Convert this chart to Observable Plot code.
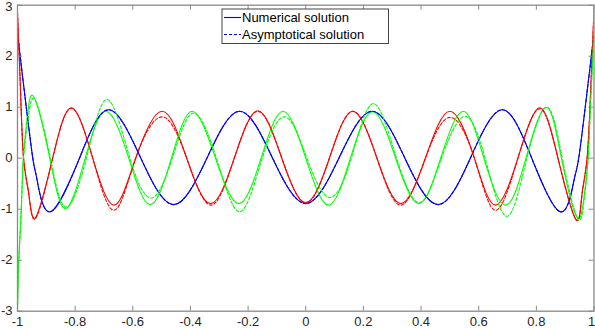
<!DOCTYPE html>
<html><head><meta charset="utf-8">
<script src="https://cdn.jsdelivr.net/npm/d3@7"></script>
<script src="https://cdn.jsdelivr.net/npm/@observablehq/plot@0.6"></script>
<style>html,body{margin:0;padding:0;background:#fff}</style>
</head><body><div id="chart"></div>
<script>
const xTicks = [-1,-0.8,-0.6,-0.4,-0.2,0,0.2,0.4,0.6,0.8,1];
const xTickLabels = ["-1","-0.8","-0.6","-0.4","-0.2","0","0.2","0.4","0.6","0.8","1"];
const yTicks = [-3,-2,-1,0,1,2,3];
const yTickLabels = ["-3","-2","-1","0","1","2","3"];
const legendLabels = ["Numerical solution","Asymptotical solution"];

// Blue curve (numerical; asymptotical coincides)
const blueX = [-1,-0.987,-0.97,-0.947,-0.932,-0.886,-0.785,-0.683,-0.572,-0.458,-0.343,-0.229,-0.115,0,0.115,0.23,0.344,0.459,0.571,0.681,0.784,0.883,0.93,0.947,0.97,0.987,1];
const blueY = [2.45,1.82,1.02,0,-0.43,-1.05,0,0.95,0,-0.91,0,0.92,0,-0.89,0,0.92,0,-0.91,0,0.95,0,-1.05,-0.45,0,1.02,1.82,2.45];

// Red curve
const redX = [-1,-0.99,-0.979,-0.961,-0.937,-0.878,-0.813,-0.739,-0.665,-0.59,-0.498,-0.413,-0.33,-0.248,-0.166,-0.083,0,0.082,0.163,0.247,0.33,0.415,0.5,0.585,0.658,0.736,0.811,0.875,0.937,0.958,0.976,0.989,1];
const redY = [2.85,1.4,0,-0.69,-1.16,0,0.99,0,-0.92,0,0.92,0,-0.89,0,0.93,0,-0.87,0,0.92,0,-0.89,0,0.92,0,-0.92,0,0.99,0,-1.2,-0.72,0,1.4,2.9];
const redDashY = [2.85,1.4,0,-0.7,-1.18,0,0.98,0,-1.02,0,0.81,0,-0.92,0,0.92,0,-0.88,0,0.92,0,-0.92,0,0.8,0,-1.02,0,0.97,0,-1.2,-0.73,0,1.4,2.9];

// Green curve
const greenX = [-1,-0.9955,-0.987,-0.98,-0.966,-0.943,-0.888,-0.834,-0.765,-0.693,-0.614,-0.54,-0.466,-0.394,-0.313,-0.232,-0.155,-0.079,0,0.079,0.155,0.232,0.312,0.392,0.468,0.546,0.618,0.693,0.764,0.834,0.887,0.94,0.965,0.979,0.987,0.9955,1];
const greenY = [-2.95,-2.0,-1.02,0,0.81,1.2,0,-0.99,0,0.92,0,-0.91,0,0.92,0,-0.89,0,0.92,0,-0.92,0,0.91,0,-0.89,0,0.92,0,-0.92,0,1.0,0,-1.15,-0.78,0,1.05,2.0,2.95];
const greenDashX = [-1,-0.9955,-0.987,-0.979,-0.963,-0.938,-0.886,-0.832,-0.761,-0.689,-0.61,-0.535,-0.463,-0.391,-0.31,-0.229,-0.151,-0.072,0.004,0.082,0.158,0.234,0.315,0.396,0.471,0.551,0.622,0.697,0.767,0.837,0.89,0.943,0.966,0.98,0.988,0.996,1];
const greenDashY = [-2.95,-2.0,-1.02,0,0.78,1.14,0,-0.96,0,1.15,0,-0.78,0,0.88,0,-1.05,0,0.81,0,-0.77,0,1.07,0,-0.87,0,0.82,0,-1.14,0,1.0,0,-1.18,-0.8,0,1.05,2.0,2.95];

const zip = (xs, ys) => xs.map((x, i) => ({x, y: ys[i]}));

const W = 595, H = 328;
const mL = 17, mR = 1.5, mT = 4.7, mB = 17.3;
const innerW = W - mL - mR, innerH = H - mT - mB;
const frameColor = "#8a8a8a";
const textColor = "#262626";
const font = "'Liberation Sans', Arial, Helvetica, sans-serif";
const xLab = new Map(xTicks.map((d, i) => [d, xTickLabels[i]]));
const yLab = new Map(yTicks.map((d, i) => [d, yTickLabels[i]]));
const xLast = xTicks[xTicks.length - 1];
const yLast = yTicks[yTicks.length - 1];

const lineOpts = (color, dash) => ({x: "x", y: "y", stroke: color, strokeWidth: 1.1, curve: "natural", clip: true, strokeDasharray: dash});
const axisText = {tickSize: 0, fontSize: 13, color: textColor, label: null};

const chart = Plot.plot({
  width: W, height: H,
  marginLeft: mL, marginRight: mR, marginTop: mT, marginBottom: mB,
  x: {domain: [-1, 1]},
  y: {domain: [-3, 3]},
  style: {fontFamily: font, fontSize: "13px", background: "#fff", overflow: "visible"},
  marks: [
    Plot.line(zip(blueX, blueY), lineOpts("#0000ff")),
    Plot.line(zip(redX, redY), lineOpts("#ff0000")),
    Plot.line(zip(greenX, greenY), lineOpts("#00ff00")),
    Plot.line(zip(blueX, blueY), lineOpts("#0000ff", "3,2")),
    Plot.line(zip(redX, redDashY), lineOpts("#ff0000", "3,2")),
    Plot.line(zip(greenDashX, greenDashY), lineOpts("#00ff00", "3,2")),
    Plot.tickX(xTicks, {x: d => d, stroke: frameColor, strokeWidth: 1, insetTop: innerH - 5}),
    Plot.tickX(xTicks, {x: d => d, stroke: frameColor, strokeWidth: 1, insetBottom: innerH - 5}),
    Plot.tickY(yTicks, {y: d => d, stroke: frameColor, strokeWidth: 1, insetRight: innerW - 5}),
    Plot.tickY(yTicks, {y: d => d, stroke: frameColor, strokeWidth: 1, insetLeft: innerW - 5}),
    Plot.frame({stroke: frameColor, strokeWidth: 1.3}),
    Plot.axisX({...axisText, ticks: xTicks.slice(0, -1), tickFormat: d => xLab.get(d), tickPadding: 6}),
    Plot.axisX({...axisText, ticks: [xLast], tickFormat: d => xLab.get(d), tickPadding: 6, dx: -2.5}),
    Plot.axisY({...axisText, ticks: yTicks.slice(0, -1), tickFormat: d => yLab.get(d), tickPadding: 5}),
    Plot.axisY({...axisText, ticks: [yLast], tickFormat: d => yLab.get(d), tickPadding: 5, dy: 1.5})
  ]
});
document.getElementById("chart").appendChild(chart);

// Legend inside the axes
const svg = d3.select(chart);
const lg = svg.append("g").attr("font-family", font).attr("font-size", 13).attr("text-anchor", "start");
lg.append("rect").attr("x", 222).attr("y", 9).attr("width", 166.5).attr("height", 34.5)
  .attr("fill", "#fff").attr("stroke", "#444").attr("stroke-width", 1);
const rows = [{y: 17.5, dash: null}, {y: 34.5, dash: "3,2"}];
rows.forEach((r, i) => {
  lg.append("line").attr("x1", 224).attr("x2", 241).attr("y1", r.y).attr("y2", r.y)
    .attr("stroke", "#0000ff").attr("stroke-width", 1.1).attr("stroke-dasharray", r.dash);
  lg.append("text").attr("x", 242).attr("y", r.y).attr("dy", "0.35em").attr("fill", "#000")
    .attr("text-anchor", "start").text(legendLabels[i]);
});
</script>
</body></html>
